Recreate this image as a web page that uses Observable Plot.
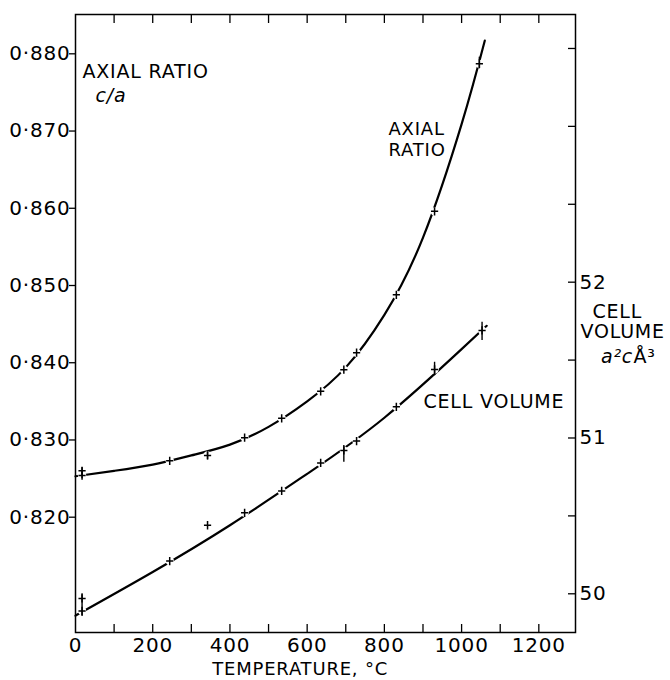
<!DOCTYPE html>
<html>
<head>
<meta charset="utf-8">
<script src="https://cdn.jsdelivr.net/npm/d3@7"></script>
<script src="https://cdn.jsdelivr.net/npm/@observablehq/plot@0.6"></script>
<style>
  html, body { margin: 0; padding: 0; background: white; }
  svg text { letter-spacing: 0.8px; }
</style>
</head>
<body>
<div id="chart"></div>
<script>
// ---- data ----
// Axial ratio c/a (left axis) measured points
const arTemps  = [17, 17, 244, 342, 438, 534, 635, 695, 728, 831, 930, 1046];
const arValues = [0.8260, 0.8254, 0.8273, 0.8280, 0.8303, 0.8328, 0.8363, 0.8391, 0.8413, 0.8488, 0.8596, 0.8787];
// Cell volume a²c Å³ (right axis) measured points
const cvTemps  = [17, 17, 244, 342, 438, 534, 635, 695, 728, 831, 930, 1053];
const cvValues = [49.97, 49.89, 50.21, 50.44, 50.52, 50.66, 50.84, 50.92, 50.98, 51.20, 51.44, 51.69];
// long vertical error bars
const arErrTemps = [17, 342, 1046];
const arErrLo    = [0.8250, 0.82743, 0.87806];
const arErrHi    = [0.8264, 0.82841, 0.87956];
const cvErrTemps = [17, 695, 930, 1053];
const cvErrLo    = [49.855, 50.845, 51.40, 51.625];
const cvErrHi    = [50.000, 50.952, 51.486, 51.743];
// fitted curves
const arCurveT = [0, 100, 200, 300, 400, 500, 600, 700, 800, 900, 1000, 1060];
const arCurveV = [0.8253, 0.8260, 0.8268, 0.8280, 0.8294, 0.8317, 0.8350, 0.8394, 0.8462, 0.8562, 0.8709, 0.8817];
const cvCurveT = [0, 200, 400, 600, 800, 1000, 1065];
const cvCurveV = [49.86, 50.14, 50.44, 50.77, 51.13, 51.57, 51.72];
// ticks
const xLabelTicks = [0, 200, 400, 600, 800, 1000, 1200];
const xMinorTicks = [100, 200, 300, 400, 500, 600, 700, 800, 900, 1000, 1100, 1200];
const leftTicks   = [0.820, 0.830, 0.840, 0.850, 0.860, 0.870, 0.880];
const rightTicks  = [50, 50.5, 51, 51.5, 52, 52.5, 53, 53.5];
const rightLabels = [50, 51, 52];

// right axis (cell volume) mapped onto the left (axial ratio) scale
const toLeft = v => 0.810082 + (v - 50) * 0.020174;
const fromLeft = y => 50 + (y - 0.810082) / 0.020174;

const arPoints = arTemps.map((t, i) => ({t, v: arValues[i]}));
const cvPoints = cvTemps.map((t, i) => ({t, v: toLeft(cvValues[i])}));
const allPoints = arPoints.concat(cvPoints);
const errBars = arErrTemps.map((t, i) => ({t, lo: arErrLo[i], hi: arErrHi[i]}))
  .concat(cvErrTemps.map((t, i) => ({t, lo: toLeft(cvErrLo[i]), hi: toLeft(cvErrHi[i])})));
const arCurve = arCurveT.map((t, i) => ({t, v: arCurveV[i]}));
const cvCurve = cvCurveT.map((t, i) => ({t, v: toLeft(cvCurveV[i])}));

const plusSym = {
  draw(context, size) {
    const r = Math.sqrt(size / Math.PI);
    context.moveTo(-r, 0); context.lineTo(r, 0);
    context.moveTo(0, -r * 1.15); context.lineTo(0, r * 1.15);
  }
};

const fmtLeft = d => d3.format(".3f")(d).replace(".", "·");
const note = (s, o) => Plot.text([s], {text: d => d, frameAnchor: "top-left", textAnchor: "start", lineAnchor: "middle", fontSize: 19, ...o});

const chart = Plot.plot({
  width: 670,
  height: 680,
  marginLeft: 75,
  marginRight: 95,
  marginTop: 14,
  marginBottom: 48,
  x: {domain: [0, 1295], label: null},
  y: {domain: [0.80507, 0.88509], label: null},
  style: {fontFamily: "DejaVu Sans", fontSize: "20px", background: "white", color: "black"},
  marks: [
    Plot.frame({stroke: "black", strokeWidth: 1.5}),
    // bottom axis
    Plot.axisX({ticks: xLabelTicks, tickSize: 0, tickPadding: 5, tickFormat: d => String(d), label: null, fontSize: 20}),
    Plot.axisX({ticks: xMinorTicks, tickSize: -8, fill: "none", label: null, strokeWidth: 1.3}),
    // top axis
    Plot.axisX({anchor: "top", ticks: xMinorTicks, tickSize: -8, fill: "none", label: null, strokeWidth: 1.3}),
    // left axis
    Plot.axisY({ticks: leftTicks, tickSize: 6, tickPadding: -1, tickFormat: fmtLeft, label: null, fontSize: 20, strokeWidth: 1.3}),
    // right axis
    Plot.axisY({anchor: "right", ticks: rightTicks.map(toLeft), tickSize: -8, fill: "none", label: null, strokeWidth: 1.3}),
    Plot.axisY({anchor: "right", ticks: rightLabels.map(toLeft), tickSize: 0, tickPadding: 4, tickFormat: d => String(Math.round(fromLeft(d))), label: null, fontSize: 20}),
    // fitted curves
    Plot.line(arCurve, {x: "t", y: "v", curve: "natural", stroke: "black", strokeWidth: 2.2}),
    Plot.line(cvCurve, {x: "t", y: "v", curve: "natural", stroke: "black", strokeWidth: 2.2}),
    // gaps around points
    Plot.dot(allPoints, {x: "t", y: "v", r: 4.2, fill: "white", stroke: "none"}),
    // error bars
    Plot.ruleX(errBars, {x: "t", y1: "lo", y2: "hi", stroke: "black", strokeWidth: 1.4}),
    // crosses
    Plot.dot(allPoints, {x: "t", y: "v", r: 3.6, symbol: plusSym, fill: "none", stroke: "black", strokeWidth: 1.5}),
    // annotations
    note("AXIAL RATIO", {dx: 7, dy: 57.9}),
    note("c/a", {dx: 20, dy: 81, fontStyle: "italic"}),
    note("AXIAL\nRATIO", {dx: 313, dy: 124.4, fontSize: 18, lineHeight: 1.17}),
    note("CELL VOLUME", {dx: 348, dy: 387.9}),
    note("CELL", {dx: 517, dy: 297.9}),
    note("VOLUME", {dx: 505, dy: 317.9}),
    note("a²c", {dx: 525.5, dy: 342.9, fontStyle: "italic"}),
    note("Å³", {dx: 558, dy: 342.9}),
    note("TEMPERATURE, °C", {dx: 136.7, dy: 655, fontSize: 18})
  ]
});
document.getElementById("chart").appendChild(chart);
</script>
</body>
</html>
